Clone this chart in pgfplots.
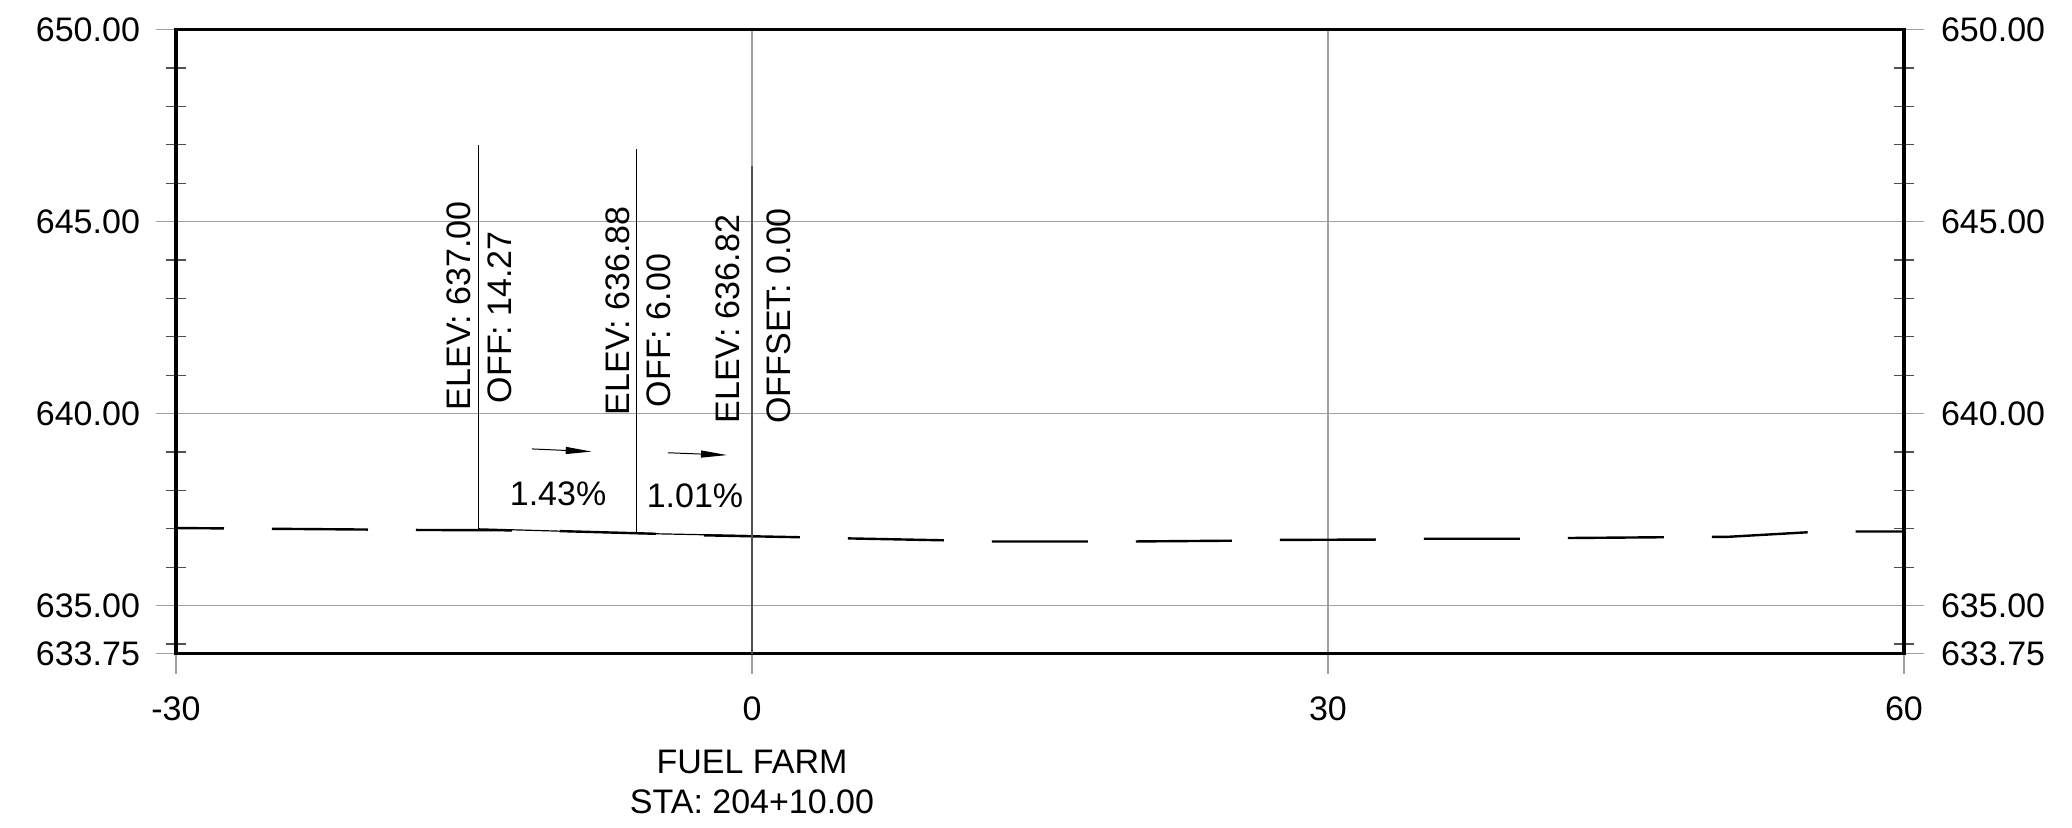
\documentclass[border=0pt]{standalone}
\usepackage{pgfplots}
\pgfplotsset{compat=1.18}
\usepackage{pgfplotstable}
\usepackage{fontspec}
\setmainfont{Liberation Sans}
\usetikzlibrary{arrows.meta}
\definecolor{gridgray}{HTML}{A0A0A0}
\definecolor{darkline}{HTML}{505050}
\tikzset{lbl/.style={font=\fontsize{17}{20}\selectfont}}

\pgfplotstableread{
x y
-30 637.02
-25 637.00
-20 636.98
-17.5 636.97
-12.5 636.96
-10 636.94
-5 636.87
-2.5 636.83
2.5 636.78
5 636.75
10 636.70
12.5 636.67
17.5 636.67
20 636.67
25 636.69
27.5 636.71
32.5 636.72
35 636.74
40 636.74
42.5 636.76
47.5 636.78
50 636.79
50.8 636.79
55 636.91
56 636.93
60 636.93
}\existing

\pgfplotstableread{
x y
-14.27 637.00
-6 636.88
0 636.82
}\proposed

\begin{document}
\begin{tikzpicture}
\pgfplotsset{
  base/.style={
    width=864pt, height=312pt, scale only axis,
    xmin=-30, xmax=60, ymin=633.75, ymax=650,
    clip=false,
    tick label style={font=\fontsize{17}{20}\selectfont},
    ytick={633.75,635,640,645,650},
    yticklabels={633.75,635.00,640.00,645.00,650.00},
  },
}
\begin{axis}[base,
  axis line style={line width=1.7pt, black},
  xtick={-30,0,30,60}, xticklabels={-30,0,30,60},
  xtick pos=bottom, ytick pos=both,
  minor ytick={634,636,637,638,639,641,642,643,644,646,647,648,649},
  tick align=center,
  major tick length=20pt, minor tick length=10pt,
  major tick style={gridgray, line width=0.6pt},
  minor tick style={darkline, line width=0.6pt},
  grid=major, major grid style={gridgray, line width=0.8pt},
  yticklabel style={xshift=-4.5pt},
  xticklabel style={yshift=-8pt},
]
% existing ground (dashed)
\addplot[black, line width=1.2pt, dash pattern=on 48pt off 24pt, dash phase=24pt] table[x=x,y=y]{\existing};
% proposed
\addplot[black, line width=0.6pt] table[x=x,y=y]{\proposed};
% vertical label lines
\addplot[black, line width=0.5pt] coordinates {(-14.27,637.00) (-14.27,647.00)};
\addplot[black, line width=0.5pt] coordinates {(-6,636.88) (-6,646.88)};
\addplot[darkline, line width=1pt] coordinates {(0,633.75) (0,646.45)};
% slope arrows
\addplot[black, line width=0.5pt, -{Triangle[length=13pt,width=3.5pt]}] coordinates {(-11.47,639.08) (-8.35,639.01)};
\addplot[black, line width=0.5pt, -{Triangle[length=13pt,width=3.5pt]}] coordinates {(-4.38,638.98) (-1.30,638.92)};
% labels (rotated: yshift>0 moves left on the page, yshift<0 moves right)
\node[lbl, rotate=90, anchor=south west, inner sep=0pt, yshift=3.5pt] at (axis cs:-14.27,640.08) {ELEV: 637.00};
\node[lbl, rotate=90, anchor=north west, inner sep=0pt, yshift=-4.5pt] at (axis cs:-14.27,640.26) {OFF: 14.27};
\node[lbl, rotate=90, anchor=south west, inner sep=0pt, yshift=3.5pt] at (axis cs:-6,639.95) {ELEV: 636.88};
\node[lbl, rotate=90, anchor=north west, inner sep=0pt, yshift=-5pt] at (axis cs:-6,640.16) {OFF: 6.00};
\node[lbl, rotate=90, anchor=south west, inner sep=0pt, yshift=6pt] at (axis cs:0,639.73) {ELEV: 636.82};
\node[lbl, rotate=90, anchor=north west, inner sep=0pt, yshift=-7pt] at (axis cs:0,639.73) {OFFSET: 0.00};
\node[lbl] at (axis cs:-10.1,637.92) {1.43\%};
\node[lbl] at (axis cs:-2.97,637.85) {1.01\%};
\node[lbl, anchor=north, align=center, inner sep=0pt, yshift=-48pt] at (axis cs:0,633.75) {FUEL FARM\\STA: 204+10.00};
\end{axis}
\begin{axis}[base,
  axis y line*=right, axis x line=none,
  axis line style={draw=none},
  ytick style={draw=none},
  yticklabel style={xshift=15pt},
]
\end{axis}
\path (current axis.south west) ++(-88pt,-87.2pt) rectangle ++(1036pt,414pt);
\end{tikzpicture}
\end{document}
